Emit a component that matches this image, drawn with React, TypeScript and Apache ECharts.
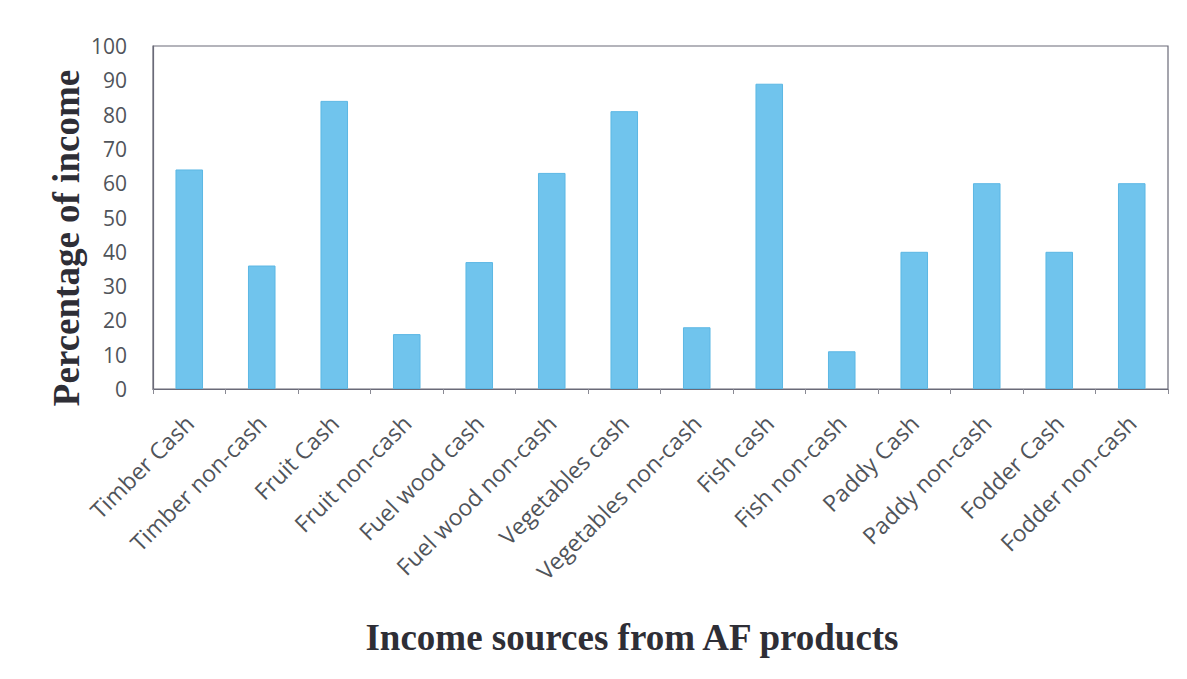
import React, { useEffect, useRef } from "react";
import * as echarts from "echarts";

// Income sources from agroforestry (AF) products, split into cash and non-cash shares
const categories: string[] = [
  "Timber Cash",
  "Timber non-cash",
  "Fruit Cash",
  "Fruit non-cash",
  "Fuel wood cash",
  "Fuel wood non-cash",
  "Vegetables cash",
  "Vegetables non-cash",
  "Fish cash",
  "Fish non-cash",
  "Paddy Cash",
  "Paddy non-cash",
  "Fodder Cash",
  "Fodder non-cash",
];

const percentOfIncome: number[] = [64, 36, 84, 16, 37, 63, 81, 18, 89, 11, 40, 60, 40, 60];

const yTicks = { min: 0, max: 100, interval: 10 };

const xTitle = "Income sources from AF products";
const yTitle = "Percentage of income";

export default function App() {
  const ref = useRef<HTMLDivElement>(null);

  useEffect(() => {
    if (!ref.current) return;
    const chart = echarts.init(ref.current, undefined, { renderer: "svg" });
    const labelFont = "'Open Sans', 'Liberation Sans', sans-serif";
    const titleFont = "'Liberation Serif', 'DejaVu Serif', serif";
    chart.setOption({
      animation: false,
      backgroundColor: "#ffffff",
      grid: {
        left: 153,
        right: 19,
        top: 46,
        bottom: 290,
        show: true,
        borderColor: "#6a6a78",
        borderWidth: 1.2,
        backgroundColor: "transparent",
      },
      graphic: [
        {
          type: "text",
          x: 66,
          y: 238,
          rotation: Math.PI / 2,
          style: {
            text: yTitle,
            fontFamily: titleFont,
            fontWeight: "bold",
            fontSize: 37,
            fill: "#2e2e36",
            align: "center",
            verticalAlign: "middle",
          },
        },
        {
          type: "text",
          x: 632,
          y: 637,
          style: {
            text: xTitle,
            fontFamily: titleFont,
            fontWeight: "bold",
            fontSize: 37,
            fill: "#2e2e36",
            align: "center",
            verticalAlign: "middle",
          },
        },
      ],
      xAxis: {
        type: "category",
        data: categories,
        axisLine: { show: true, lineStyle: { color: "#6a6a78", width: 1.2 } },
        axisTick: { show: true, length: 5, lineStyle: { color: "#8a8a94" } },
        axisLabel: {
          rotate: 45,
          interval: 0,
          margin: 30,
          fontFamily: labelFont,
          fontSize: 23,
          color: "#50545a",
        },
      },
      yAxis: {
        type: "value",
        min: yTicks.min,
        max: yTicks.max,
        interval: yTicks.interval,
        axisLine: { show: true, lineStyle: { color: "#6a6a78", width: 1.2 } },
        axisTick: { show: false },
        splitLine: { show: false },
        axisLabel: {
          margin: 26,
          fontFamily: labelFont,
          fontSize: 21,
          color: "#50545a",
        },
      },
      series: [
        {
          type: "bar",
          data: percentOfIncome,
          barWidth: "38%",
          itemStyle: {
            color: "#70c4ed",
            borderColor: "#5cb7e4",
            borderWidth: 1,
          },
        },
      ],
    });
    return () => chart.dispose();
  }, []);

  return (
    <div
      ref={ref}
      style={{ position: "absolute", left: 0, top: 0, width: 1187, height: 679 }}
    />
  );
}
